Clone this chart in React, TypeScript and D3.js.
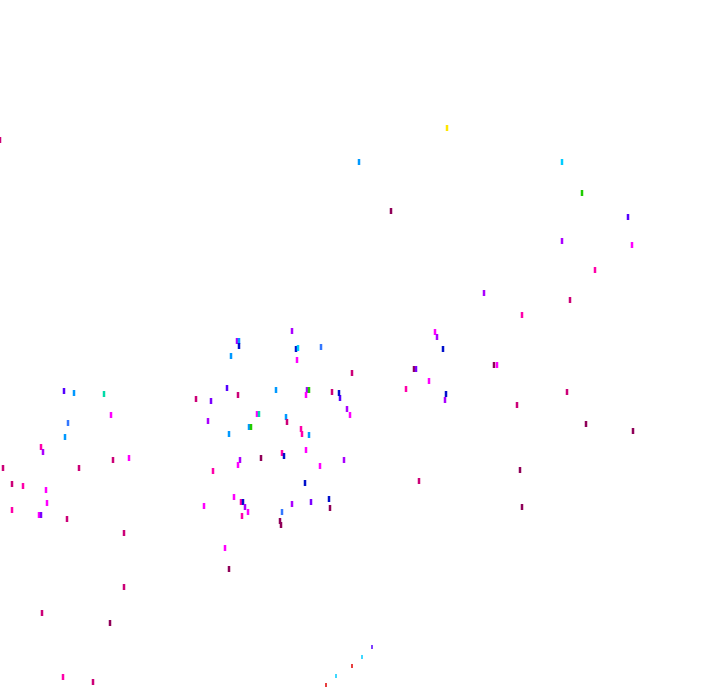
import React from "react";
import * as d3 from "d3";

// Category keys (hue groups) used by the points
const categories = [
  "yellow", "green", "teal", "cyan", "azure", "azureBlue", "blue",
  "violetBlue", "violet", "purple", "magenta", "pink", "crimson", "darkMagenta", "red",
];
const categoryColors = [
  "#ffe600", "#1fcc00", "#00dba8", "#00ccff", "#0099ff", "#3377ff", "#0010cc",
  "#5500ff", "#7a00ff", "#aa00ff", "#ff00ff", "#ff00aa", "#cc0077", "#8f0058", "#e00000",
];

// Main scatter: [x, y, category]
const points: [number, number, string][] = [
  [0, 140, "crimson"], [447, 128, "yellow"], [359, 162, "azure"], [562, 162, "cyan"],
  [582, 193, "green"], [391, 211, "darkMagenta"], [628, 217, "violetBlue"], [562, 241, "purple"],
  [632, 245, "magenta"], [595, 270, "pink"],
  [484, 293, "purple"], [570, 300, "crimson"], [522, 315, "pink"], [435, 332, "magenta"],
  [437, 337, "purple"], [443, 349, "blue"], [352, 373, "crimson"], [414, 369, "darkMagenta"],
  [416, 369, "violet"], [494, 365, "darkMagenta"], [497, 365, "magenta"], [429, 381, "magenta"],
  [406, 389, "pink"], [340, 398, "violetBlue"], [446, 394, "blue"], [445, 400, "purple"],
  [567, 392, "crimson"], [347, 409, "purple"], [350, 415, "magenta"], [517, 405, "crimson"],
  [586, 424, "darkMagenta"], [633, 431, "darkMagenta"],
  [292, 331, "purple"], [237, 341, "purple"], [239, 341, "azure"], [239, 346, "blue"],
  [296, 349, "blue"], [298, 348, "cyan"], [321, 347, "azureBlue"], [231, 356, "azure"],
  [297, 360, "magenta"], [227, 388, "violetBlue"], [276, 390, "azure"], [307, 390, "purple"],
  [309, 390, "green"], [306, 395, "magenta"], [332, 392, "crimson"], [339, 393, "blue"],
  [211, 401, "violet"], [238, 395, "crimson"], [257, 414, "magenta"], [259, 414, "teal"],
  [286, 417, "azure"], [287, 422, "crimson"], [301, 429, "pink"], [302, 434, "pink"],
  [249, 427, "azure"], [251, 427, "green"], [229, 434, "azure"], [309, 435, "azure"],
  [208, 421, "purple"], [196, 399, "crimson"],
  [64, 391, "violetBlue"], [74, 393, "azure"], [104, 394, "teal"], [111, 415, "magenta"],
  [68, 423, "azureBlue"], [65, 437, "azure"], [41, 447, "pink"], [43, 452, "purple"],
  [129, 458, "magenta"], [113, 460, "crimson"], [3, 468, "crimson"], [79, 468, "crimson"],
  [12, 484, "crimson"], [23, 486, "pink"], [46, 490, "magenta"], [47, 503, "magenta"],
  [12, 510, "pink"], [39, 515, "magenta"], [41, 515, "violet"], [67, 519, "crimson"],
  [240, 460, "purple"], [238, 465, "magenta"], [261, 458, "darkMagenta"], [282, 453, "pink"],
  [284, 456, "blue"], [306, 450, "magenta"], [320, 466, "magenta"], [344, 460, "purple"],
  [213, 471, "pink"], [305, 483, "blue"], [234, 497, "magenta"], [241, 502, "pink"],
  [243, 502, "blue"], [245, 507, "purple"], [248, 512, "magenta"], [242, 516, "pink"],
  [292, 504, "purple"], [311, 502, "violet"], [329, 499, "blue"], [330, 508, "darkMagenta"],
  [282, 512, "azureBlue"], [280, 521, "darkMagenta"], [281, 525, "darkMagenta"],
  [204, 506, "magenta"], [124, 533, "crimson"],
  [520, 470, "darkMagenta"], [419, 481, "crimson"], [522, 507, "darkMagenta"],
  [225, 548, "magenta"], [229, 569, "darkMagenta"], [124, 587, "crimson"], [42, 613, "crimson"],
  [110, 623, "darkMagenta"], [63, 677, "pink"], [93, 682, "crimson"],
];

// Small trailing marks along the bottom diagonal
const trail: [number, number, string][] = [
  [372, 647, "violetBlue"], [362, 657, "cyan"], [352, 666, "red"], [336, 676, "cyan"], [326, 685, "red"],
];

const W = 720;
const H = 692;

export default function App() {
  const x = d3.scaleLinear().domain([0, 720]).range([0, W]);
  const y = d3.scaleLinear().domain([0, 692]).range([0, H]);
  const color = d3.scaleOrdinal<string, string>().domain(categories).range(categoryColors);

  return (
    <svg
      width={W}
      height={H}
      style={{ position: "fixed", left: 0, top: 0, background: "#fff" }}
    >
      <rect x={0} y={0} width={W} height={H} fill="#fff" />
      <g>
        {points.map(([px, py, c], i) => (
          <rect
            key={"p" + i}
            x={x(px) - 1.25}
            y={y(py) - 3}
            width={2.5}
            height={6}
            fill={color(c)}
          />
        ))}
      </g>
      <g>
        {trail.map(([px, py, c], i) => (
          <rect
            key={"t" + i}
            x={x(px) - 0.75}
            y={y(py) - 2}
            width={1.5}
            height={4}
            fill={color(c)}
          />
        ))}
      </g>
    </svg>
  );
}
